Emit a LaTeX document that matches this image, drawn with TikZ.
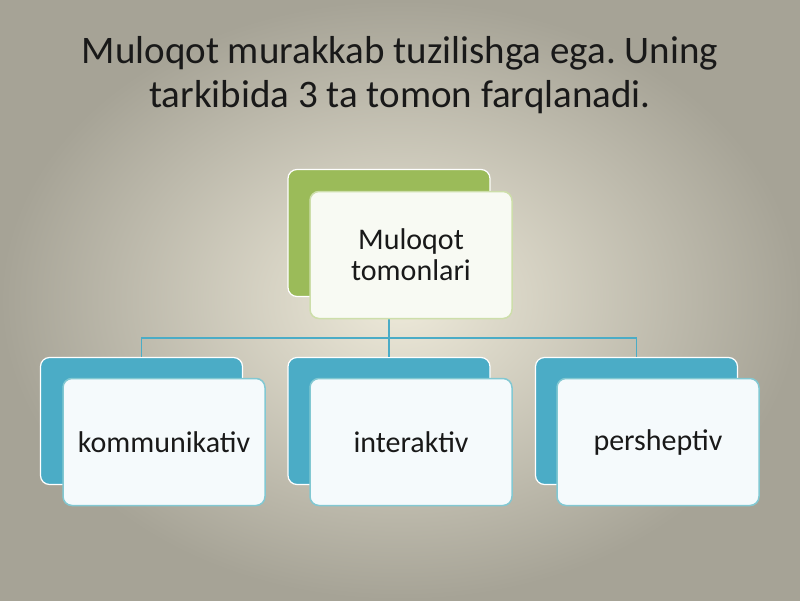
\documentclass[tikz,border=0pt]{standalone}
\usepackage{fontspec}
\setmainfont{Carlito}
\frenchspacing
\definecolor{bgin}{RGB}{238,234,218}
\definecolor{bgout}{RGB}{166,163,150}
\definecolor{leafgreen}{RGB}{155,187,89}
\definecolor{seablue}{RGB}{75,172,198}
\definecolor{textdark}{RGB}{25,25,25}
\begin{document}
\begin{tikzpicture}[x=1pt,y=-1pt,
    back/.style={rounded corners=9pt, minimum width=202pt, minimum height=127pt, draw=white, line width=1.2pt},
    front/.style={rounded corners=9pt, minimum width=202pt, minimum height=127pt, line width=1.5pt,
        text=textdark, align=center, font=\fontsize{30}{31}\selectfont},
    link/.style={draw=seablue, line width=1.4pt}]
    % background
    \shade[inner color=bgin, outer color=bgout] (0,0) rectangle (800,600);
    % title
    \node[anchor=base, text=textdark, font=\fontsize{39}{43}\selectfont] (title1) at (400,63) {Muloqot murakkab tuzilishga ega. Uning};
    \node[anchor=base, text=textdark, font=\fontsize{39}{43}\selectfont] (title2) at (400,107) {tarkibida 3 ta tomon farqlanadi.};
    % back boxes
    \node[back, fill=leafgreen] (tomonB) at (389,233) {};
    \node[back, fill=seablue] (kommB) at (141.5,421) {};
    \node[back, fill=seablue] (interB) at (389,421) {};
    \node[back, fill=seablue] (persB) at (636.5,421) {};
    % connectors
    \coordinate (hub) at (389,338);
    \draw[link] (tomonB.south) -- (interB.north);
    \draw[link] (hub) -| (kommB.north);
    \draw[link] (hub) -| (persB.north);
    % front boxes
    \node[front, fill={rgb,255:red,248;green,250;blue,243}, draw={rgb,255:red,205;green,222;blue,170}] (tomon) at (411,255) {Muloqot\\tomonlari};
    \node[front, fill={rgb,255:red,245;green,250;blue,252}, draw={rgb,255:red,130;green,200;blue,210}] (komm) at (164,442) {kommunikativ};
    \node[front, fill={rgb,255:red,245;green,250;blue,252}, draw={rgb,255:red,130;green,200;blue,210}] (inter) at (411,442) {interaktiv};
    \node[front, fill={rgb,255:red,245;green,250;blue,252}, draw={rgb,255:red,130;green,200;blue,210}] (pers) at (658,442) {persheptiv};
\end{tikzpicture}
\end{document}
